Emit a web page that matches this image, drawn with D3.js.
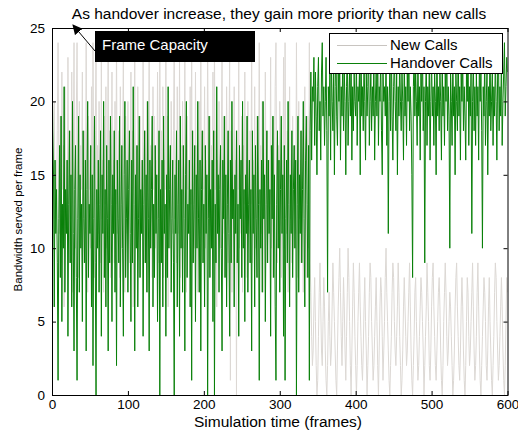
<!DOCTYPE html>
<html lang="en">
<head>
    <meta charset="UTF-8">
    <title>Bandwidth served per frame</title>
    <style>
        body, html {
            margin: 0;
            padding: 0;
            background: #ffffff;
            overflow: hidden;
        }
        svg text {
            font-family: 'Liberation Sans', Arial, sans-serif;
        }
    </style>
</head>
<body>
    <div id="chart"></div>

    <script src="https://cdn.jsdelivr.net/npm/d3@7/dist/d3.min.js"></script>
    <script>
        // Series values, one per frame (0..600)
        const handoverCalls = [
            24,18,15,6,16,11,14,9,1,12,17,8,19,5,13,10,21,7,14,11,
            16,4,13,18,9,15,6,20,11,3,14,17,8,1,12,19,7,15,10,13,
            5,18,12,9,16,3,14,20,8,13,11,17,6,15,2,12,19,9,0,14,
            10,16,7,13,18,4,15,11,20,8,14,6,17,12,3,16,9,19,13,5,
            15,11,18,7,14,2,16,12,9,19,6,13,17,10,4,15,20,8,12,16,
            7,14,18,11,5,16,9,21,13,3,15,10,17,6,12,19,8,14,11,16,
            4,13,18,9,15,7,20,12,3,16,10,14,19,6,13,8,17,11,15,5,
            12,18,0,14,9,16,6,19,11,13,4,15,8,21,10,14,17,7,12,16,
            9,0,15,11,18,6,13,16,4,19,10,14,7,17,12,3,15,20,8,13,
            11,16,6,14,1,18,9,13,17,5,15,10,20,12,7,16,3,14,18,9,
            13,6,17,11,15,0,12,19,8,14,10,16,5,18,0,13,9,21,11,15,
            7,14,17,10,3,16,12,19,8,15,6,13,18,11,4,16,9,20,12,14,
            6,15,11,18,9,13,4,17,12,16,8,20,10,14,5,15,11,19,7,13,
            16,9,14,3,18,11,15,6,17,12,8,19,13,1,14,10,16,7,20,12,
            15,5,13,18,9,16,11,14,4,17,12,19,8,15,6,1,13,18,10,16,
            7,14,19,11,15,4,17,1,12,16,9,20,13,6,15,11,18,8,14,17,
            10,16,0,13,19,7,15,11,18,9,14,20,12,6,16,19,13,8,17,1,
            18,22,16,21,20,23,17,22,19,15,21,23,18,20,16,22,24,19,21,17,
            20,23,18,7,21,19,22,16,23,20,18,22,15,21,24,19,17,22,20,23,
            16,21,19,23,18,22,20,15,21,24,17,20,22,19,23,16,21,18,22,20,
            19,23,17,21,20,22,15,24,19,21,18,23,20,16,22,19,21,24,17,20,
            22,18,21,19,23,16,20,22,19,24,17,21,20,23,18,15,22,20,21,19,
            23,17,21,11,20,22,18,24,19,16,21,23,20,18,22,15,21,19,23,20,
            18,22,20,16,23,19,21,17,22,20,24,18,21,19,15,8,21,23,19,22,
            20,17,23,19,21,16,22,20,24,18,21,9,20,23,17,21,19,22,16,20,
            23,19,21,17,22,20,15,24,19,21,18,22,20,16,23,19,21,17,22,20,
            24,18,21,19,10,22,20,17,23,19,21,15,22,20,18,24,19,21,16,22,
            20,23,18,21,19,16,22,20,24,17,21,19,22,11,20,23,18,21,17,22,
            19,21,16,23,20,22,18,10,21,19,23,17,20,22,15,21,19,24,18,20,
            22,17,21,19,23,20,16,22,24,18,21,19,23,17,20,22,24,19,21,23,
            22
        ];

        const newCalls = [
            8,10,14,20,12,16,13,18,24,15,11,19,9,22,14,17,6,21,13,16,
            11,23,15,9,18,12,22,7,16,24,13,10,19,24,15,8,20,12,17,14,
            22,9,15,18,11,24,13,7,19,14,16,10,21,12,24,15,8,18,24,13,
            17,11,20,14,9,23,12,16,7,19,13,21,10,15,24,11,18,8,14,22,
            12,16,9,20,13,24,11,15,18,8,21,14,10,17,23,12,7,19,15,11,
            20,13,9,16,22,11,18,6,14,24,12,17,10,21,15,8,19,13,16,11,
            23,14,9,18,12,20,7,15,24,11,17,13,8,21,14,19,10,16,12,22,
            15,9,24,13,18,11,21,8,16,14,23,12,19,6,17,13,10,20,15,11,
            18,24,12,16,9,21,14,11,23,8,17,13,20,10,15,24,12,7,19,14,
            16,11,21,13,24,9,18,14,10,22,12,17,7,15,20,11,24,13,9,18,
            14,21,10,16,12,24,15,8,19,13,17,11,22,9,24,14,18,6,16,12,
            20,13,10,17,24,11,15,8,19,12,21,14,9,16,23,1,18,7,15,13,
            21,12,16,0,18,14,23,10,15,11,19,7,17,13,22,12,16,8,20,14,
            11,18,13,24,9,16,12,21,10,15,19,8,14,24,13,17,11,20,7,15,
            12,22,14,9,18,11,16,13,23,10,15,8,19,12,21,24,14,9,17,11,
            20,13,8,16,12,23,10,24,15,11,18,7,14,21,12,16,9,19,13,10,
            17,11,24,14,8,20,12,16,9,18,13,7,15,21,11,8,14,19,10,24,
            9,7,4,2,3,6,8,5,2,0,1,4,7,9,6,3,2,5,8,6,
            3,1,0,2,5,7,4,2,3,6,9,7,5,3,1,0,3,6,8,10,
            7,4,2,5,8,6,3,1,4,7,10,8,5,2,0,3,6,9,7,4,
            2,0,2,5,7,9,6,4,2,1,3,6,8,5,3,0,2,4,7,9,
            8,5,3,1,2,4,6,8,5,2,0,3,6,8,7,4,1,3,5,8,
            10,7,5,3,1,0,2,4,7,9,8,5,3,2,4,6,9,7,4,2,
            0,1,3,6,8,6,4,2,3,5,7,9,6,3,1,0,2,4,7,8,
            5,3,1,2,4,6,8,7,5,3,0,2,4,6,9,7,5,2,1,3,
            6,8,9,6,4,2,1,3,5,7,8,6,3,1,0,2,5,7,9,7,
            4,2,3,5,7,6,4,2,0,1,3,6,8,9,6,4,2,1,3,6,
            8,6,3,1,0,2,5,8,7,4,2,3,5,7,9,6,3,1,2,4,
            7,9,6,3,1,0,2,4,6,8,7,5,2,1,3,6,8,5,3,1,
            0,2,4,7,9,8,5,3,1,2,4,6,8,6,3,1,0,2,5,8,
            7
        ];

        const xTicks = [0, 100, 200, 300, 400, 500, 600];
        const yTicks = [0, 5, 10, 15, 20, 25];

        const width = 518, height = 433;
        const margin = {top: 28, right: 10, bottom: 38, left: 52};

        const newColor = "#dcd8d4";
        const handoverColor = "#0a800a";

        const svg = d3.select("#chart")
            .append("svg")
            .attr("width", width)
            .attr("height", height);

        const x = d3.scaleLinear()
            .domain([0, 600])
            .range([margin.left, width - margin.right - 0.5]);

        const y = d3.scaleLinear()
            .domain([0, 25])
            .range([height - margin.bottom, margin.top]);

        const line = d3.line()
            .x((d, i) => x(i))
            .y(d => y(d));

        svg.append("clipPath").attr("id", "plotClip")
            .append("rect")
            .attr("x", x(0)).attr("y", y(25))
            .attr("width", x(600) - x(0)).attr("height", y(0) - y(25));

        const plot = svg.append("g").attr("clip-path", "url(#plotClip)");

        plot.append("path")
            .datum(newCalls)
            .attr("fill", "none")
            .attr("stroke", newColor)
            .attr("stroke-width", 1)
            .attr("d", line);

        plot.append("path")
            .datum(handoverCalls)
            .attr("fill", "none")
            .attr("stroke", handoverColor)
            .attr("stroke-width", 1)
            .attr("d", line);

        // axes box with inward ticks (top/right mirrored)
        const tickLen = 4;
        svg.append("g")
            .attr("transform", `translate(0,${y(0)})`)
            .call(d3.axisBottom(x).tickValues(xTicks).tickSizeInner(-tickLen).tickSizeOuter(0).tickPadding(4))
            .call(g => g.select(".domain").remove());
        svg.append("g")
            .attr("transform", `translate(0,${y(25)})`)
            .call(d3.axisTop(x).tickValues(xTicks).tickSizeInner(-tickLen).tickSizeOuter(0).tickFormat(""))
            .call(g => g.select(".domain").remove());
        svg.append("g")
            .attr("transform", `translate(${x(0)},0)`)
            .call(d3.axisLeft(y).tickValues(yTicks).tickSizeInner(-tickLen).tickSizeOuter(0).tickPadding(7))
            .call(g => g.select(".domain").remove());
        svg.append("g")
            .attr("transform", `translate(${x(600)},0)`)
            .call(d3.axisRight(y).tickValues(yTicks).tickSizeInner(-tickLen).tickSizeOuter(0).tickFormat(""))
            .call(g => g.select(".domain").remove());

        svg.selectAll(".tick text")
            .attr("font-size", 13.5)
            .attr("font-family", "'Liberation Sans', Arial, sans-serif")
            .attr("fill", "#000");

        svg.append("rect")
            .attr("x", x(0) + 0.5).attr("y", y(25) + 0.5)
            .attr("width", x(600) - x(0)).attr("height", y(0) - y(25))
            .attr("fill", "none")
            .attr("stroke", "#000")
            .attr("stroke-width", 1);

        // title and axis labels
        svg.append("text")
            .attr("x", 279).attr("y", 19)
            .attr("text-anchor", "middle")
            .attr("font-size", 15.5)
            .text("As handover increase, they gain more priority than new calls");

        svg.append("text")
            .attr("x", 278).attr("y", 427)
            .attr("text-anchor", "middle")
            .attr("font-size", 15.5)
            .text("Simulation time (frames)");

        svg.append("text")
            .attr("transform", `translate(22,${(y(0) + y(25)) / 2 + 8}) rotate(-90)`)
            .attr("text-anchor", "middle")
            .attr("font-size", 11.5)
            .text("Bandwidth  served per frame");

        // "Frame Capacity" annotation
        svg.append("rect")
            .attr("x", 95).attr("y", 31)
            .attr("width", 160).attr("height", 31)
            .attr("fill", "#000");
        svg.append("text")
            .attr("x", 102).attr("y", 50)
            .attr("font-size", 15)
            .attr("fill", "#fff")
            .text("Frame Capacity");

        svg.append("defs").append("marker")
            .attr("id", "arrowHead")
            .attr("viewBox", "0 0 10 10")
            .attr("refX", 9).attr("refY", 5)
            .attr("markerWidth", 10).attr("markerHeight", 10)
            .attr("orient", "auto")
            .attr("markerUnits", "userSpaceOnUse")
            .append("path")
            .attr("d", "M0,0 L10,5 L0,10 Z")
            .attr("fill", "#000");
        svg.append("line")
            .attr("x1", 95).attr("y1", 51)
            .attr("x2", 73).attr("y2", 25)
            .attr("stroke", "#000")
            .attr("stroke-width", 1)
            .attr("marker-end", "url(#arrowHead)");

        // legend
        const legend = svg.append("g");
        legend.append("rect")
            .attr("x", 329.5).attr("y", 33.5)
            .attr("width", 173).attr("height", 40)
            .attr("fill", "#fff")
            .attr("stroke", "#000");
        const items = [
            {name: "New Calls", color: "#c8c4c0"},
            {name: "Handover Calls", color: handoverColor}
        ];
        items.forEach((d, i) => {
            const yy = 45 + i * 18;
            legend.append("line")
                .attr("x1", 337).attr("x2", 387)
                .attr("y1", yy + 0.5).attr("y2", yy + 0.5)
                .attr("stroke", d.color);
            legend.append("text")
                .attr("x", 390).attr("y", yy + 5)
                .attr("font-size", 15)
                .text(d.name);
        });
    </script>
</body>
</html>
